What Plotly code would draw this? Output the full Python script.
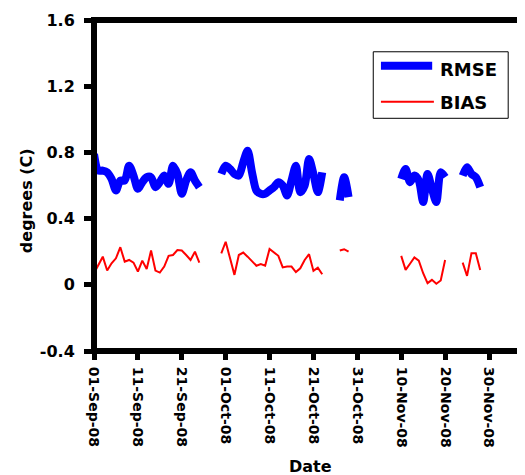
import pandas as pd
import plotly.graph_objects as go

# ---- data (daily, starting 01-Sep-2008; None = missing day) ----
START_DATE = "2008-09-01"
N_DAYS = 89

RMSE = (
    [0.79, 0.69, 0.69, 0.68, 0.64, 0.57, 0.63, 0.63, 0.72, 0.66, 0.58, 0.62, 0.65,
     0.65, 0.59, 0.62, 0.66, 0.61, 0.72, 0.67, 0.55, 0.63, 0.68, 0.63, 0.59]
    + [None] * 4
    + [0.67, 0.72, 0.70, 0.67, 0.66, 0.74, 0.81, 0.68, 0.57, 0.55, 0.55, 0.57,
       0.59, 0.62, 0.60, 0.54, 0.63, 0.72, 0.56, 0.60, 0.76, 0.67, 0.56, 0.68]
    + [None] * 3
    + [0.51, 0.65, 0.53]
    + [None] * 11
    + [0.64, 0.70, 0.62, 0.66, 0.63, 0.50, 0.67, 0.58, 0.50, 0.68, 0.65]
    + [None] * 3
    + [0.66, 0.71, 0.67, 0.65, 0.59]
)

BIAS = (
    [0.07, 0.12, 0.17, 0.086, 0.13, 0.16, 0.227, 0.14, 0.15, 0.134, 0.08, 0.146,
     0.095, 0.207, 0.086, 0.074, 0.11, 0.175, 0.18, 0.21, 0.207, 0.18, 0.15, 0.2, 0.134]
    + [None] * 4
    + [0.19, 0.26, 0.16, 0.06, 0.18, 0.195, 0.17, 0.14, 0.115, 0.125, 0.115, 0.217,
       0.196, 0.175, 0.105, 0.11, 0.11, 0.077, 0.10, 0.15, 0.185, 0.084, 0.104, 0.064]
    + [None] * 3
    + [0.207, 0.215, 0.2]
    + [None] * 11
    + [0.175, 0.09, 0.127, 0.165, 0.146, 0.07, 0.01, 0.03, 0.006, 0.026, 0.15]
    + [None] * 3
    + [0.134, 0.054, 0.19, 0.19, 0.09]
)

X_TICKVALS = ["2008-09-01", "2008-09-11", "2008-09-21", "2008-10-01", "2008-10-11",
              "2008-10-21", "2008-10-31", "2008-11-10", "2008-11-20", "2008-11-30"]
X_TICKTEXT = ["01-Sep-08", "11-Sep-08", "21-Sep-08", "01-Oct-08", "11-Oct-08",
              "21-Oct-08", "31-Oct-08", "10-Nov-08", "20-Nov-08", "30-Nov-08"]
Y_TICKVALS = [-0.4, 0, 0.4, 0.8, 1.2, 1.6]
Y_TICKTEXT = ["-0.4", "0", "0.4", "0.8", "1.2", "1.6"]

dates = pd.date_range(START_DATE, periods=N_DAYS, freq="D")

FONT = "DejaVu Sans"

fig = go.Figure()
fig.add_trace(go.Scatter(
    x=dates, y=RMSE, mode="lines", name="RMSE", showlegend=False,
    line=dict(color="#0000FF", width=8, shape="spline", smoothing=0.8),
    connectgaps=False,
))
fig.add_trace(go.Scatter(
    x=dates, y=BIAS, mode="lines", name="BIAS", showlegend=False,
    line=dict(color="#FF0000", width=2),
    connectgaps=False,
))

# plot frame
fig.add_shape(type="rect", xref="paper", yref="paper", x0=0, x1=1, y0=0, y1=1,
              line=dict(color="black", width=6), layer="above")

# legend (box, samples, labels)
fig.add_shape(type="rect", xref="paper", yref="paper", x0=0.654, x1=0.970,
              y0=0.703, y1=0.904, line=dict(color="black", width=1),
              fillcolor="white", layer="above")
fig.add_shape(type="line", xref="paper", yref="paper", x0=0.672, x1=0.792,
              y0=0.862, y1=0.862, line=dict(color="#0000FF", width=8), layer="above")
fig.add_shape(type="line", xref="paper", yref="paper", x0=0.672, x1=0.796,
              y0=0.753, y1=0.753, line=dict(color="#FF0000", width=2), layer="above")
fig.add_annotation(xref="paper", yref="paper", x=0.806, y=0.850, text="RMSE",
                   showarrow=False, xanchor="left", yanchor="middle",
                   font=dict(family=FONT, size=18, color="black", weight="bold"))
fig.add_annotation(xref="paper", yref="paper", x=0.806, y=0.752, text="BIAS",
                   showarrow=False, xanchor="left", yanchor="middle",
                   font=dict(family=FONT, size=18, color="black", weight="bold"))

# axis titles
fig.add_annotation(xref="paper", yref="paper", x=0.508, y=-0.35, text="Date",
                   showarrow=False, xanchor="center", yanchor="middle",
                   font=dict(family=FONT, size=16, color="black", weight="bold"))
fig.add_annotation(xref="paper", yref="paper", x=-0.159, y=0.453, text="degrees (C)",
                   textangle=-90, showarrow=False, xanchor="center", yanchor="middle",
                   font=dict(family=FONT, size=16, color="black", weight="bold"))

# the page body adds an 8px offset, so the figure is sized to end at the window edge
fig.update_layout(
    width=517, height=467,
    margin=dict(l=86, r=4, t=12, b=124),
    paper_bgcolor="white", plot_bgcolor="white",
    showlegend=False,
    xaxis=dict(
        type="date",
        range=["2008-09-01", "2008-12-07 07:00"],
        tickvals=X_TICKVALS, ticktext=X_TICKTEXT, tickangle=90,
        ticks="outside", ticklen=8, tickwidth=5, tickcolor="black",
        showgrid=False, zeroline=False, showline=False,
        tickfont=dict(family=FONT, size=14, color="black", weight="bold"),
        ticklabelstandoff=4,
    ),
    yaxis=dict(
        range=[-0.4, 1.6],
        tickvals=Y_TICKVALS, ticktext=Y_TICKTEXT,
        ticks="outside", ticklen=9, tickwidth=5, tickcolor="black",
        showgrid=False, zeroline=False, showline=False,
        tickfont=dict(family=FONT, size=16, color="black", weight="bold"),
        ticklabelstandoff=6,
    ),
)

fig.write_html("out.html")
